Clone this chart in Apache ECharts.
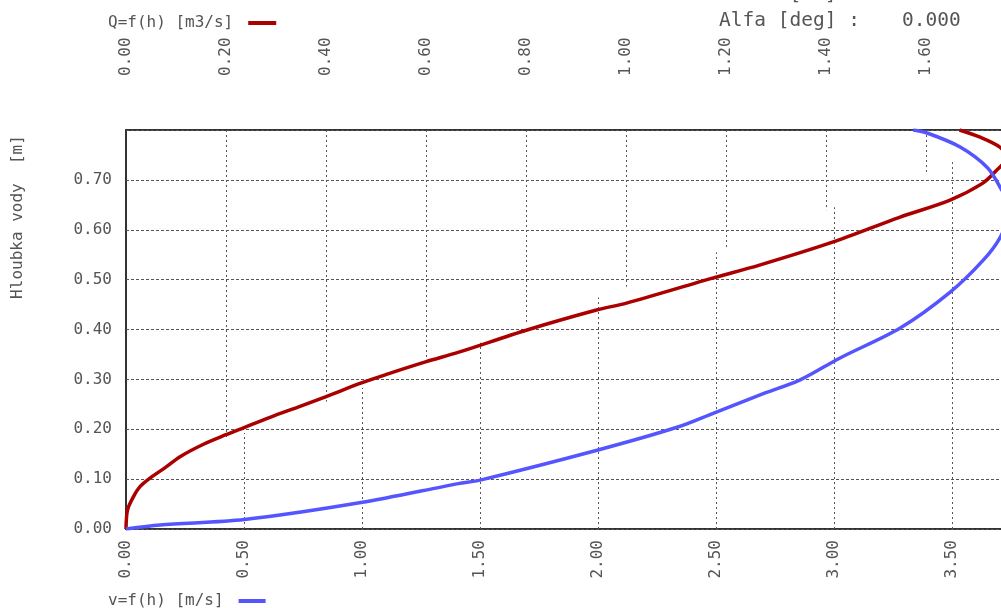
<!DOCTYPE html>
<html>
<head>
<meta charset="utf-8">
<script src="https://cdn.jsdelivr.net/npm/echarts@6/dist/echarts.min.js"></script>
<style>
  html, body { margin: 0; padding: 0; background: #fff; }
  #chart { width: 1001px; height: 608px; }
</style>
</head>
<body>
<div id="chart"></div>
<script>
// Q = f(h) curve, top axis [m3/s]
const qFlow = [0, 0.003, 0.015, 0.028, 0.048, 0.081, 0.108, 0.155, 0.200, 0.235, 0.288, 0.348, 0.399, 0.468, 0.521, 0.599, 0.664, 0.802, 0.941, 1.001, 1.173, 1.267, 1.413, 1.547, 1.647, 1.713, 1.741, 1.762, 1.747, 1.707, 1.667]
const qDepth = [0, 0.038, 0.065, 0.085, 0.102, 0.125, 0.145, 0.170, 0.189, 0.203, 0.224, 0.246, 0.265, 0.292, 0.310, 0.335, 0.354, 0.399, 0.439, 0.453, 0.503, 0.529, 0.575, 0.625, 0.659, 0.693, 0.719, 0.745, 0.766, 0.786, 0.800]
// v = f(h) curve, bottom axis [m/s]
const vSpeed = [0, 0.144, 0.502, 0.996, 1.409, 1.501, 1.997, 2.336, 2.489, 2.688, 2.858, 3.027, 3.282, 3.494, 3.634, 3.706, 3.750, 3.706, 3.651, 3.536, 3.396, 3.337]
const vDepth = [0, 0.008, 0.019, 0.053, 0.091, 0.098, 0.158, 0.204, 0.232, 0.269, 0.299, 0.343, 0.403, 0.475, 0.539, 0.585, 0.640, 0.685, 0.725, 0.766, 0.794, 0.800]

const qTicks = [0.2, 0.4, 0.6, 0.8, 1.0, 1.2, 1.4, 1.6, 1.8]
const vTicks = [0.5, 1.0, 1.5, 2.0, 2.5, 3.0, 3.5]
// where top grid lines stop and bottom grid lines start (in v/h units)
const cutSpeed = [0, 3.9]
const cutDepth = [0.102, 0.808]

const qMax = 1.84
const vMax = 3.9
const hMax = 0.8

const qName = 'Q=f(h) [m3/s]'
const vName = 'v=f(h) [m/s]'
const font = '"DejaVu Sans Mono", monospace'
const grey = '#555'

function cutH(v) {
  const k = (v - cutSpeed[0]) / (cutSpeed[1] - cutSpeed[0])
  return cutDepth[0] + k * (cutDepth[1] - cutDepth[0])
}

function gridPart(isTop) {
  return function(params, api) {
    const t = api.value(0)
    const v = isTop ? t * vMax / qMax : t
    const hc = Math.max(0, Math.min(hMax, cutH(v)))
    const p1 = api.coord([t, isTop ? hMax : 0])
    const p2 = api.coord([t, hc])
    const x = Math.round(p1[0]) + 0.5
    return {
      type: 'line',
      shape: { x1: x, y1: p1[1], x2: x, y2: p2[1] },
      style: { stroke: grey, lineWidth: 1, lineDash: [2, 3] }
    }
  }
}

const chart = echarts.init(document.getElementById('chart'))
const labelStyle = { color: grey, fontFamily: font, fontSize: 16 }
const infoFont = '19.5px ' + font
chart.setOption({
  animation: false,
  grid: {
    left: 126, top: 130, width: 920, height: 399,
    containLabel: false, outerBoundsMode: 'none',
    show: true, borderColor: '#333', borderWidth: 2, backgroundColor: 'transparent'
  },
  legend: [
    {
      data: [qName], left: 103, top: 10, align: 'right', icon: 'rect',
      itemWidth: 28, itemHeight: 4, selectedMode: false,
      textStyle: Object.assign({ padding: [0, 10, 0, 0] }, labelStyle)
    },
    {
      data: [vName], left: 103, top: 588, align: 'right', icon: 'rect',
      itemWidth: 27, itemHeight: 4, selectedMode: false,
      textStyle: Object.assign({ padding: [0, 10, 0, 0] }, labelStyle)
    }
  ],
  xAxis: [
    {
      type: 'value', position: 'top', min: 0, max: qMax, interval: 0.2,
      axisLine: { show: false }, axisTick: { show: false }, splitLine: { show: false },
      axisLabel: Object.assign({ rotate: 90, margin: 54, showMaxLabel: false, hideOverlap: false, formatter: v => v.toFixed(2) }, labelStyle)
    },
    {
      type: 'value', position: 'bottom', min: 0, max: vMax, interval: 0.5,
      axisLine: { show: false }, axisTick: { show: false }, splitLine: { show: false },
      axisLabel: Object.assign({ rotate: 90, margin: 11, showMaxLabel: false, hideOverlap: false, formatter: v => v.toFixed(2) }, labelStyle)
    }
  ],
  yAxis: {
    type: 'value', min: 0, max: hMax, interval: 0.1,
    axisLine: { show: false }, axisTick: { show: false },
    splitLine: { show: true, lineStyle: { color: grey, width: 1, type: [3, 2] } },
    axisLabel: Object.assign({ margin: 14, showMaxLabel: false, formatter: v => v.toFixed(2) }, labelStyle)
  },
  graphic: [
    { type: 'text', x: 18, y: 217, rotation: Math.PI / 2,
      style: { text: 'Hloubka vody  [m]', textAlign: 'center', textVerticalAlign: 'middle', font: '16px ' + font, fill: grey } },
    { type: 'text', x: 860, y: -5,
      style: { text: 'x [km] :', textAlign: 'right', textVerticalAlign: 'middle', font: infoFont, fill: grey } },
    { type: 'text', x: 902, y: -5,
      style: { text: '0.000', textAlign: 'left', textVerticalAlign: 'middle', font: infoFont, fill: grey } },
    { type: 'text', x: 860, y: 21,
      style: { text: 'Alfa [deg] :', textAlign: 'right', textVerticalAlign: 'middle', font: infoFont, fill: grey } },
    { type: 'text', x: 902, y: 21,
      style: { text: '0.000', textAlign: 'left', textVerticalAlign: 'middle', font: infoFont, fill: grey } }
  ],
  series: [
    {
      type: 'custom', xAxisIndex: 0, yAxisIndex: 0, z: 1, silent: true,
      renderItem: gridPart(true), data: qTicks.map(t => [t, 0])
    },
    {
      type: 'custom', xAxisIndex: 1, yAxisIndex: 0, z: 1, silent: true,
      renderItem: gridPart(false), data: vTicks.map(t => [t, 0])
    },
    {
      name: qName, type: 'line', xAxisIndex: 0, yAxisIndex: 0, z: 5,
      showSymbol: false, smooth: 0.3, color: '#aa0000',
      lineStyle: { width: 3.5, color: '#aa0000' },
      data: qFlow.map((q, i) => [q, qDepth[i]])
    },
    {
      name: vName, type: 'line', xAxisIndex: 1, yAxisIndex: 0, z: 5,
      showSymbol: false, smooth: 0.3, color: '#5555ff',
      lineStyle: { width: 3.5, color: '#5555ff' },
      data: vSpeed.map((v, i) => [v, vDepth[i]])
    }
  ]
})
</script>
</body>
</html>
